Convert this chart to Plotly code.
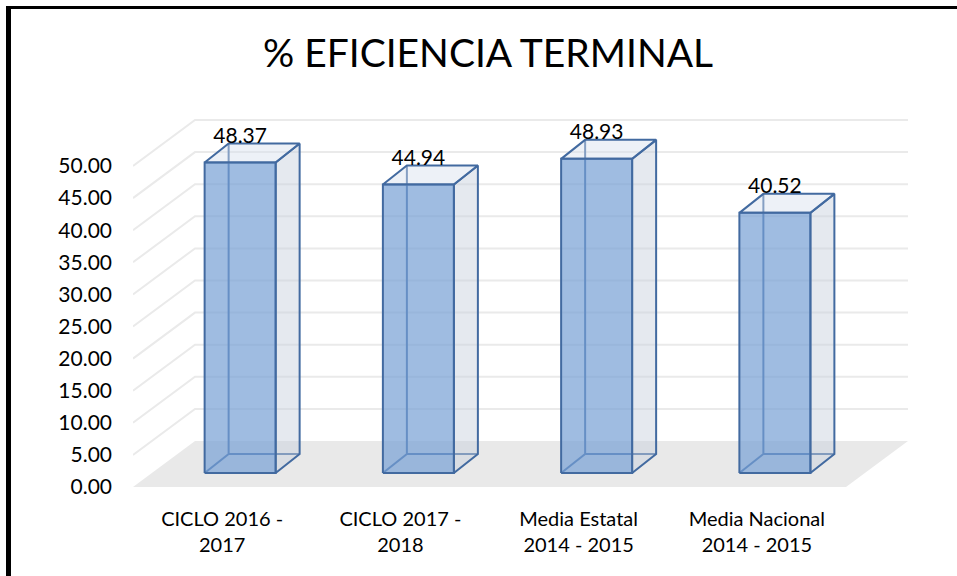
import plotly.graph_objects as go

# ---- data ----
categories = ["CICLO 2016 - 2017", "CICLO 2017 - 2018", "Media Estatal 2014 - 2015", "Media Nacional 2014 - 2015"]
tick_labels = ["CICLO 2016 -<br>2017", "CICLO 2017 -<br>2018", "Media Estatal<br>2014 - 2015", "Media Nacional<br>2014 - 2015"]
values = [48.37, 44.94, 48.93, 40.52]
y_ticks = [0, 5, 10, 15, 20, 25, 30, 35, 40, 45, 50]
title_text = "% EFICIENCIA TERMINAL"

# ---- geometry (pixel scale of the oblique 3D projection) ----
W, H = 957, 576
L, R, T, B = 133, 32, 90, 89
XU = 178.25          # px per category unit
YU = 6.42            # px per value unit
PW, PH = W - L - R, H - T - B
x_range = [-0.5, -0.5 + PW / XU]
y_range = [0, PH / YU]

FLOOR_D = (62 / XU, 46 / YU)     # full floor depth
BAR_OFF = (18 / XU, 14 / YU)     # bar front plane offset
BAR_D = (24 / XU, 19 / YU)       # bar depth
HALF_W = 35.5 / XU

FONT = "Lato"
EDGE = "rgb(66,106,160)"
GRID = "rgb(234,234,234)"

fig = go.Figure()

# back wall and side wall gridlines
n = len(categories)
for v in y_ticks[1:]:
    fig.add_trace(go.Scatter(
        x=[-0.5, -0.5 + FLOOR_D[0], n - 0.5 + FLOOR_D[0]],
        y=[v, v + FLOOR_D[1], v + FLOOR_D[1]],
        mode="lines", line=dict(color=GRID, width=2),
        hoverinfo="skip", showlegend=False))

# floor
fig.add_trace(go.Scatter(
    x=[-0.5, n - 0.5, n - 0.5 + FLOOR_D[0], -0.5 + FLOOR_D[0], -0.5],
    y=[0, 0, FLOOR_D[1], FLOOR_D[1], 0],
    mode="lines", fill="toself", fillcolor="rgb(233,233,233)",
    line=dict(width=0), hoverinfo="skip", showlegend=False))

for i, v in enumerate(values):
    x0 = i - HALF_W + BAR_OFF[0]
    x1 = i + HALF_W + BAR_OFF[0]
    y0 = BAR_OFF[1]
    y1 = v + BAR_OFF[1]
    dx, dy = BAR_D
    # hidden back edges
    fig.add_trace(go.Scatter(
        x=[x0, x0 + dx, x0 + dx, None, x0 + dx, x1 + dx],
        y=[y0, y0 + dy, y1 + dy, None, y0 + dy, y0 + dy],
        mode="lines", line=dict(color=EDGE, width=2),
        hoverinfo="skip", showlegend=False))
    # right side face
    fig.add_trace(go.Scatter(
        x=[x1, x1 + dx, x1 + dx, x1, x1],
        y=[y0, y0 + dy, y1 + dy, y1, y0],
        mode="lines", fill="toself", fillcolor="rgba(200,208,222,0.48)",
        line=dict(color=EDGE, width=2), hoverinfo="skip", showlegend=False))
    # top face
    fig.add_trace(go.Scatter(
        x=[x0, x0 + dx, x1 + dx, x1, x0],
        y=[y1, y1 + dy, y1 + dy, y1, y1],
        mode="lines", fill="toself", fillcolor="rgba(215,225,238,0.45)",
        line=dict(color=EDGE, width=2), hoverinfo="skip", showlegend=False))
    # front face
    fig.add_trace(go.Scatter(
        x=[x0, x1, x1, x0, x0],
        y=[y0, y0, y1, y1, y0],
        mode="lines", fill="toself", fillcolor="rgba(118,160,212,0.70)",
        line=dict(color=EDGE, width=2), hoverinfo="skip", showlegend=False))

# data labels
fig.add_trace(go.Scatter(
    x=[i + BAR_OFF[0] for i in range(n)],
    y=[v + BAR_OFF[1] + 25 / YU for v in values],
    mode="text", text=[f"{v:.2f}" for v in values],
    textposition="middle center",
    textfont=dict(family=FONT, size=21, color="black"),
    hoverinfo="skip", showlegend=False))

# frame (left and top borders of the chart area)
def px_x(p):
    return (p - L) / PW

def px_y(p):
    return (H - B - p) / PH

fig.add_shape(type="line", xref="paper", yref="paper",
              x0=px_x(8.5), x1=px_x(8.5), y0=px_y(6), y1=px_y(H),
              line=dict(color="black", width=5))
fig.add_shape(type="line", xref="paper", yref="paper",
              x0=px_x(6), x1=px_x(W), y0=px_y(7.5), y1=px_y(7.5),
              line=dict(color="black", width=3))

fig.update_layout(
    width=W, height=H,
    margin=dict(l=L, r=R, t=T, b=B),
    paper_bgcolor="white", plot_bgcolor="white",
    title=dict(text=title_text, x=488 / W, xanchor="center",
               y=1 - 53 / H, yanchor="middle", yref="container",
               font=dict(family=FONT, size=39, color="black")),
    xaxis=dict(range=x_range, showgrid=False, zeroline=False, showline=False,
               tickvals=list(range(n)), ticktext=tick_labels, ticks="",
               ticklabelstandoff=18,
               tickfont=dict(family=FONT, size=20, color="black")),
    yaxis=dict(range=y_range, showgrid=False, zeroline=False, showline=False,
               tickvals=y_ticks, tickformat=".2f", ticks="",
               ticklabelstandoff=20,
               tickfont=dict(family=FONT, size=21, color="black")),
    showlegend=False,
)

fig.write_html("out.html",
               config={"displayModeBar": False},
               post_script="document.body.style.margin='0';document.body.style.overflow='hidden';")
